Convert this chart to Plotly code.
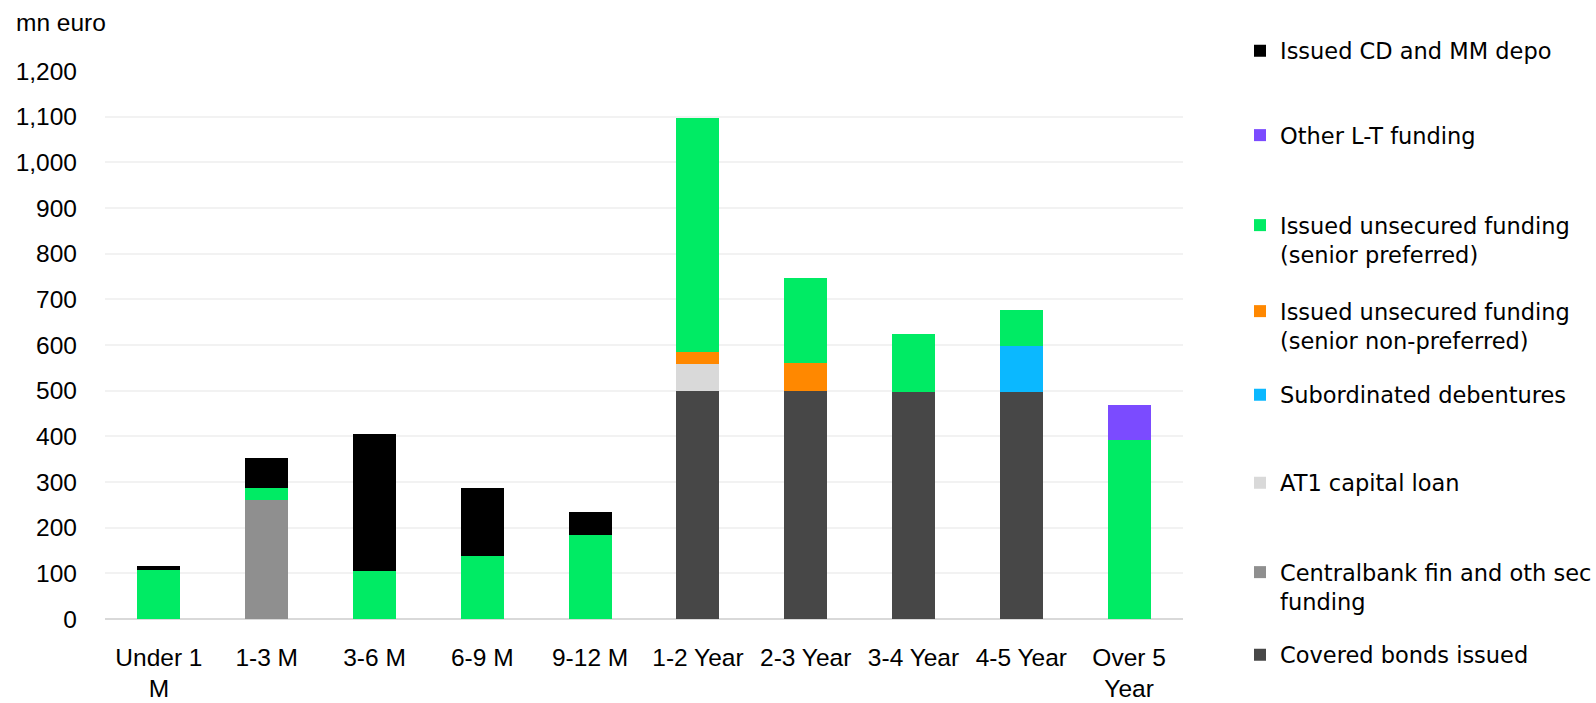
import plotly.graph_objects as go

categories = ["Under 1<br>M", "1-3 M", "3-6 M", "6-9 M", "9-12 M",
              "1-2 Year", "2-3 Year", "3-4 Year", "4-5 Year", "Over 5<br>Year"]

covered_bonds = [0, 0, 0, 0, 0, 499, 499, 497, 497, 0]
centralbank = [0, 261, 0, 0, 0, 0, 0, 0, 0, 0]
at1_loan = [0, 0, 0, 0, 0, 60, 0, 0, 0, 0]
subordinated = [0, 0, 0, 0, 0, 0, 0, 0, 100, 0]
senior_non_pref = [0, 0, 0, 0, 0, 25, 62, 0, 0, 0]
senior_pref = [108, 25, 105, 139, 183, 514, 186, 127, 79, 391]
other_lt = [0, 0, 0, 0, 0, 0, 0, 0, 0, 77]
cd_mm = [8, 66, 300, 147, 51, 0, 0, 0, 0, 0]

y_ticks = list(range(0, 1201, 100))

series = [
    ("Covered bonds issued", covered_bonds, "#474747", 655),
    ("Centralbank fin and oth sec<br>funding", centralbank, "#8f8f8f", 587),
    ("AT1 capital loan", at1_loan, "#d9d9d9", 483),
    ("Subordinated debentures", subordinated, "#0bb8ff", 395),
    ("Issued unsecured funding<br>(senior non-preferred)", senior_non_pref, "#ff8800", 326),
    ("Issued unsecured funding<br>(senior preferred)", senior_pref, "#00eb64", 240),
    ("Other L-T funding", other_lt, "#7b4bff", 135.5),
    ("Issued CD and MM depo", cd_mm, "#000000", 51),
]

W, H = 1596, 703
fig = go.Figure()
layout_legends = {}
for i, (name, vals, color, ycen) in enumerate(series):
    lname = "legend" if i == 0 else f"legend{i+1}"
    fig.add_trace(go.Bar(
        x=categories, y=vals, name=name,
        marker=dict(color=color, line=dict(width=0)),
        legend=lname,
    ))
    layout_legends[lname] = dict(
        xref="container", yref="container",
        x=1240 / W, y=1 - ycen / H,
        xanchor="left", yanchor="middle",
        valign="top",
        bgcolor="rgba(0,0,0,0)",
        font=dict(family="DejaVu Sans", size=22.5, color="#000000"),
    )

fig.update_layout(
    width=W, height=H,
    barmode="stack", bargap=0.6,
    plot_bgcolor="white", paper_bgcolor="white",
    margin=dict(l=105, r=W - 1183, t=71, b=H - 619, pad=0, autoexpand=False),
    font=dict(family="Liberation Sans", size=24.5, color="#000000"),
    showlegend=True,
    xaxis=dict(
        showgrid=False, showline=False, ticks="", automargin=False,
        tickfont=dict(family="Liberation Sans", size=24.5),
        ticklabelstandoff=21,
    ),
    yaxis=dict(
        range=[0, 1200], tickvals=y_ticks, tickformat=",", automargin=False,
        showgrid=True, gridcolor="#f2f2f2", gridwidth=1.5,
        zeroline=True, zerolinecolor="#d9d9d9", zerolinewidth=2,
        showline=False, ticks="",
        tickfont=dict(family="Liberation Sans", size=24.5),
        ticklabelstandoff=27,
    ),
    annotations=[dict(
        text="mn euro", xref="paper", yref="paper",
        x=(14 - 105) / 1078, y=(619 - 22) / 548,
        xanchor="left", yanchor="middle", showarrow=False,
        font=dict(family="Liberation Sans", size=24.5, color="#000000"),
    )],
    **layout_legends,
)

fig.write_html("out.html")
